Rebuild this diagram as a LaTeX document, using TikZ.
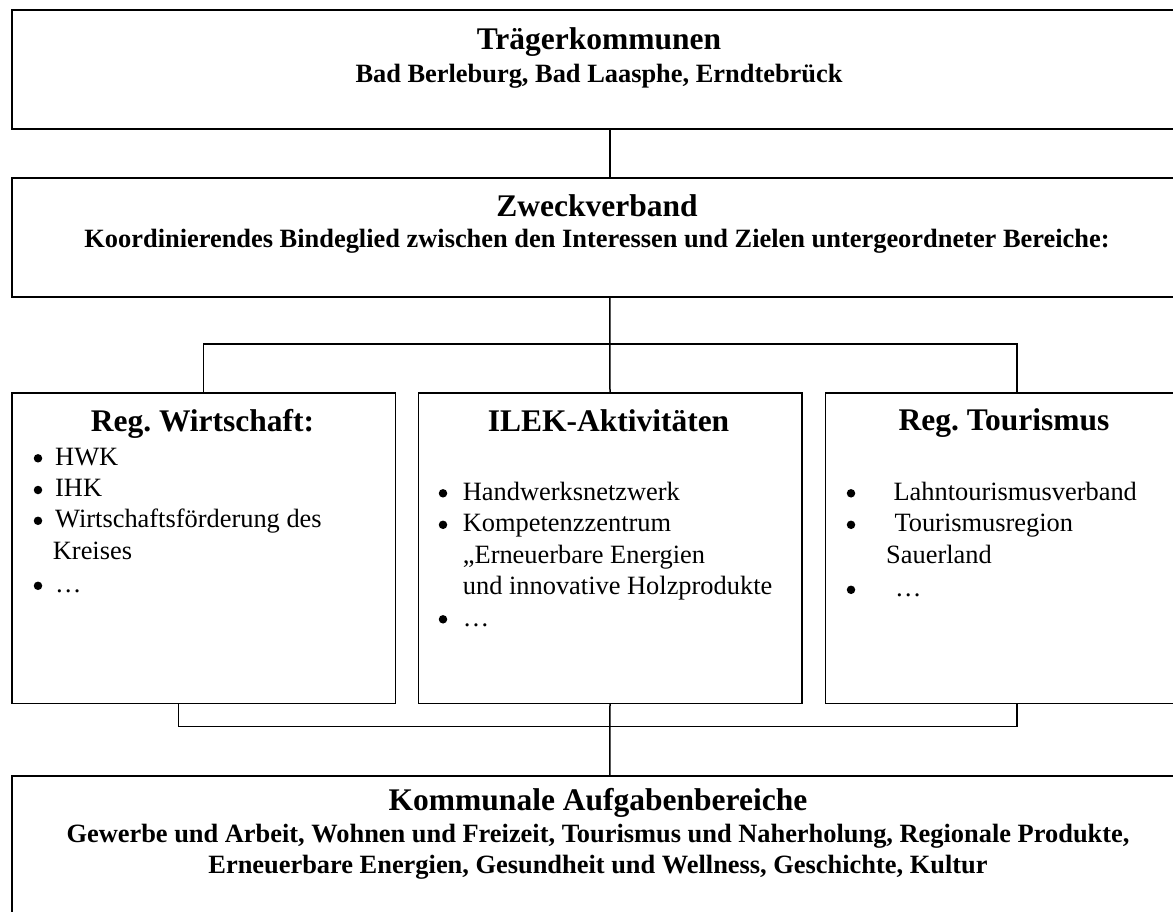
\documentclass[tikz,border=0pt]{standalone}
\usepackage{fontspec}
\setmainfont{Liberation Serif}
\frenchspacing
\begin{document}
\begin{tikzpicture}[x=1pt,y=-1pt,
  box/.style={draw,line width=1.5pt,rectangle,inner sep=0pt,anchor=north west},
  conn/.style={line width=1.5pt},
  ttl/.style={inner sep=0pt,anchor=base,font=\fontsize{31.5}{36}\selectfont\bfseries},
  sub/.style={inner sep=0pt,anchor=base,font=\fontsize{26.4}{30}\selectfont\bfseries},
  itm/.style={inner sep=0pt,anchor=base west,font=\fontsize{26.4}{30}\selectfont},
  dot/.style={circle,fill=black,draw=none,inner sep=0pt,minimum size=8.5pt}]
\useasboundingbox (0,0) rectangle (1173,911);
\clip (0,0) rectangle (1173,911);
% boxes
\node[box,minimum width=1196pt,minimum height=119pt] (top) at (11,9) {};
\node[box,minimum width=1196pt,minimum height=119pt] (zweck) at (11,177) {};
\node[box,minimum width=383.5pt,minimum height=310.5pt] (left) at (11,392) {};
\node[box,minimum width=383.5pt,minimum height=310.5pt] (mid) at (417.5,392) {};
\node[box,minimum width=383.5pt,minimum height=310.5pt] (right) at (824.5,392) {};
\node[box,minimum width=1196pt,minimum height=200pt] (bottom) at (11,775) {};
% connectors
\coordinate (bus1) at (609,344);
\coordinate (bus2) at (609,726.7);
\coordinate (lb) at ([xshift=167.5pt]left.south west);
\draw[conn] (top.south) -- (zweck.north);
\draw[conn] (zweck.south) -- (mid.north);
\draw[conn] (left.north) -- (left.north |- bus1) -- (right.north |- bus1) -- (right.north);
\draw[conn] (mid.south) -- (bottom.north);
\draw[conn] (lb) -- (lb |- bus2) -- (right.south |- bus2) -- (right.south);
% top texts
\node[ttl] (t1) at (599,49) {Trägerkommunen};
\node[sub] (t2) at (599,82) {Bad Berleburg, Bad Laasphe, Erndtebrück};
\node[ttl] (z1) at (597,216) {Zweckverband};
\node[sub] (z2) at (597,247) {Koordinierendes Bindeglied zwischen den Interessen und Zielen untergeordneter Bereiche:};
% left box
\node[ttl] (l0) at (202.5,431.5) {Reg. Wirtschaft:};
\node[dot] (lb1) at (38,458.3) {};
\node[itm] (l1) at (55,465) {HWK};
\node[dot] (lb2) at (38,490) {};
\node[itm] (l2) at (55,496.7) {IHK};
\node[dot] (lb3) at (38,520.8) {};
\node[itm] (l3) at (55,527.5) {Wirtschaftsförderung des};
\node[itm] (l4) at (52.7,559.3) {Kreises};
\node[dot] (lb5) at (38,585.8) {};
\node[itm] (l5) at (55,592.5) {…};
% middle box
\node[ttl] (m0) at (608.5,431) {ILEK-Aktivitäten};
\node[dot] (mb1) at (443,493.3) {};
\node[itm] (m1) at (462.7,500) {Handwerksnetzwerk};
\node[dot] (mb2) at (443,524.8) {};
\node[itm] (m2) at (462.7,531.5) {Kompetenzzentrum};
\node[itm] (m3) at (462.7,563) {„Erneuerbare Energien};
\node[itm] (m4) at (462.7,594.5) {und innovative Holzprodukte};
\node[dot] (mb5) at (443,619.3) {};
\node[itm] (m5) at (462.7,626) {…};
% right box
\node[ttl] (r0) at (1004,430) {Reg. Tourismus};
\node[dot] (rb1) at (851,493.3) {};
\node[itm] (r1) at (893.3,500) {Lahntourismusverband};
\node[dot] (rb2) at (851,524.8) {};
\node[itm] (r2) at (894.3,531.5) {Tourismusregion};
\node[itm] (r3) at (886,563.3) {Sauerland};
\node[dot] (rb4) at (851,589.8) {};
\node[itm] (r4) at (895,596.5) {…};
% bottom box
\node[ttl] (k0) at (598,810) {Kommunale Aufgabenbereiche};
\node[sub] (k1) at (598,842) {Gewerbe und Arbeit, Wohnen und Freizeit, Tourismus und Naherholung, Regionale Produkte,};
\node[sub] (k2) at (598,873) {Erneuerbare Energien, Gesundheit und Wellness, Geschichte, Kultur};
\end{tikzpicture}
\end{document}
